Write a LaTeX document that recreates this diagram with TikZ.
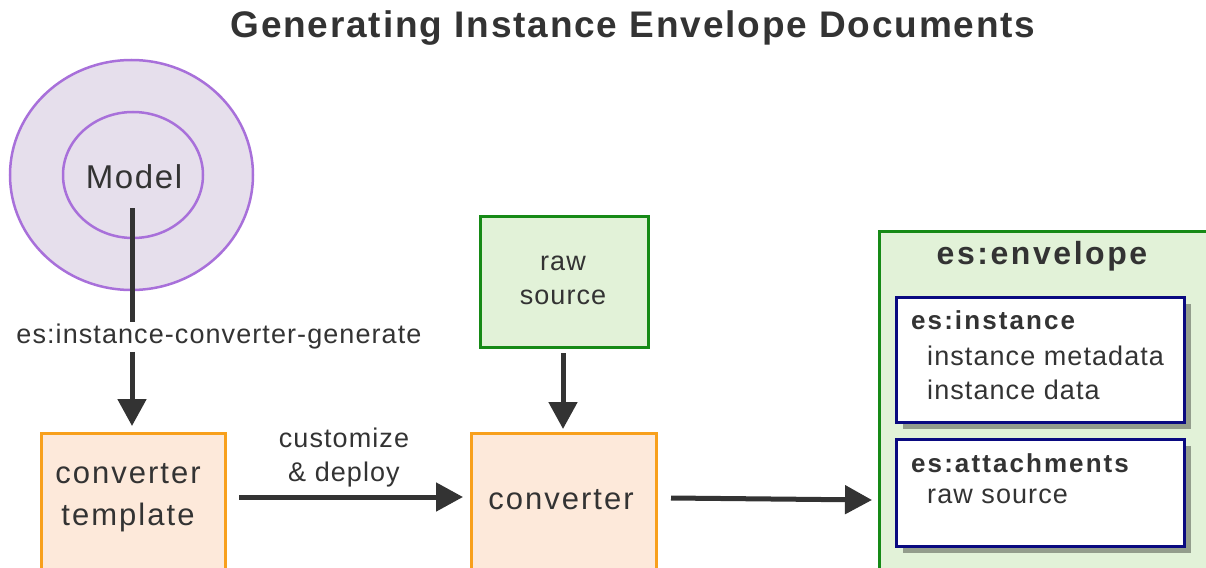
\documentclass[tikz,border=0pt]{standalone}
\usepackage{fontspec}
\setmainfont{Liberation Sans}
\newfontfamily\spA[LetterSpace=4]{Liberation Sans}
\newfontfamily\spB[LetterSpace=6.5]{Liberation Sans}
\newfontfamily\spC[LetterSpace=5]{Liberation Sans}
\newfontfamily\spD[LetterSpace=8]{Liberation Sans}
\usetikzlibrary{shapes.geometric,arrows.meta,shadows}
\definecolor{txtc}{HTML}{333333}
\definecolor{purp}{HTML}{A870DA}
\definecolor{lav}{HTML}{E6DFEC}
\definecolor{orng}{HTML}{F8A01C}
\definecolor{peach}{HTML}{FDE9DA}
\definecolor{grn}{HTML}{168A16}
\definecolor{lgrn}{HTML}{E2F2D8}
\definecolor{navy}{HTML}{0A0A80}
\tikzset{
  txt/.style={text=txtc, inner sep=0pt, align=center},
  small/.style={font=\spA\fontsize{27}{34}\selectfont},
  big/.style={font=\spB\fontsize{31}{42}\selectfont},
  bsmall/.style={font=\spD\fontsize{26}{32}\selectfont\bfseries},
  ell/.style={ellipse, draw=purp, line width=2.5pt, fill=lav, inner sep=0pt},
  obox/.style={rectangle, draw=orng, line width=3pt, fill=peach, inner sep=0pt, anchor=north west},
  gbox/.style={rectangle, draw=grn, line width=3pt, fill=lgrn, inner sep=0pt, anchor=north west},
  nbox/.style={rectangle, draw=navy, line width=3pt, fill=white, inner sep=0pt, anchor=north west,
     drop shadow={shadow xshift=6pt, shadow yshift=-6pt, fill=black, opacity=0.35}},
  arr/.style={draw=txtc, line width=5pt, -{Triangle[length=27pt,width=28pt]}},
  ln/.style={draw=txtc, line width=5pt},
}
\begin{document}
\begin{tikzpicture}[x=1pt,y=-1pt]
\useasboundingbox (0,0) rectangle (1206,567);
% title
\node[txt, font=\spC\fontsize{37}{44}\selectfont\bfseries] (title) at (633,28) {Generating Instance Envelope Documents};
% model
\node[ell, minimum width=243pt, minimum height=230pt] (outer) at (131.5,175) {};
\node[ell, minimum width=140pt, minimum height=126pt] (inner) at (133,175) {};
\node[txt, font=\spC\fontsize{33}{40}\selectfont] (model) at (134,177) {Model};
\coordinate (mstart) at (132,208);
% boxes
\node[obox, minimum width=184pt, minimum height=180pt] (tmpl) at (40,432) {};
\node[txt, big] (tmpltxt) at (128,498) {converter\\template};
\node[obox, minimum width=185pt, minimum height=180pt] (conv) at (470,432) {};
\node[txt, big] (convtxt) at (561,500) {converter};
\node[gbox, minimum width=168pt, minimum height=131pt] (raw) at (479,215) {};
\node[txt, small] (rawtxt) at (563,280) {raw\\source};
\node[gbox, minimum width=360pt, minimum height=360pt] (env) at (878,230) {};
\node[txt, font=\spD\fontsize{32}{38}\selectfont\bfseries] (envtxt) at (1042,256) {es:envelope};
\node[nbox, minimum width=288pt, minimum height=125pt] (inst) at (895,296) {};
\node[txt, bsmall, anchor=west] (insttxt) at (911,320) {es:instance};
\node[txt, small, anchor=west] (imeta) at (927,356) {instance metadata};
\node[txt, small, anchor=west] (idata) at (927,390) {instance data};
\node[nbox, minimum width=288pt, minimum height=107pt] (att) at (895,438) {};
\node[txt, bsmall, anchor=west] (atttxt) at (911,463) {es:attachments};
\node[txt, small, anchor=west] (araw) at (927,496) {raw source};
% labels
\node[txt, small, fill=white, inner sep=2pt] (gen) at (219,337) {es:instance-converter-generate};
\node[txt, small] (cust) at (344,458) {customize\\\& deploy};
% connectors
\draw[ln] (mstart) -- (mstart |- gen.north);
\draw[arr] (mstart |- gen.south) -- ([yshift=6pt]tmpl.north -| mstart);
\draw[arr] ([xshift=12pt,yshift=-65pt]tmpl.north east) -- ([xshift=-7pt,yshift=-65pt]conv.north west);
\draw[arr, shorten <=4pt, shorten >=3pt] (raw.south -| rawtxt) -- (conv.north -| rawtxt);
\draw[arr] ([xshift=13pt,yshift=-66pt]conv.north east) -- ([xshift=-6pt,yshift=-270pt]env.north west);
\end{tikzpicture}
\end{document}
